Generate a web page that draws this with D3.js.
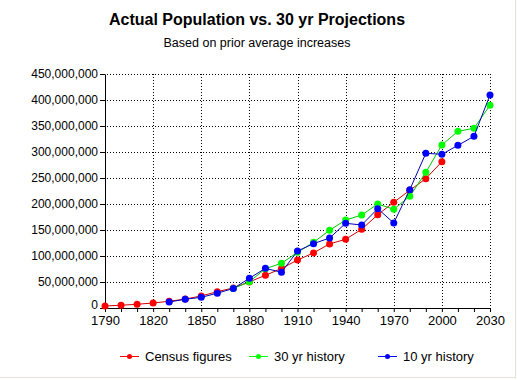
<!DOCTYPE html>
<html>
<head>
  <meta charset="utf-8">
  <title>Actual Population vs. 30 yr Projections</title>
  <script src="https://d3js.org/d3.v7.min.js"></script>
  <style>
    body { margin: 0; background: #fff; }
    text { font-family: Arial, "Liberation Sans", sans-serif; }
  </style>
</head>
<body>
  <svg width="517" height="380"></svg>
  <script>
    // Data (values in millions of people)
    var years = [1790, 1800, 1810, 1820, 1830, 1840, 1850, 1860, 1870, 1880, 1890, 1900,
                 1910, 1920, 1930, 1940, 1950, 1960, 1970, 1980, 1990, 2000, 2010, 2020, 2030];
    var census = [3.9, 5.3, 7.2, 9.6, 12.9, 17.1, 23.2, 31.4, 38.6, 50.2, 62.9, 76.0,
                  92.2, 106.0, 123.2, 132.2, 151.3, 179.3, 203.3, 226.5, 248.7, 281.4, null, null, null];
    var hist30 = [null, null, null, null, null, null, null, null, 37.5, 50.6, 75.5, 86.0,
                  107.0, 126.3, 149.4, 169.2, 178.8, 200.0, 189.8, 214.8, 261.0, 313.5, 339.8, 345.6, 389.8];
    var hist10 = [null, null, null, null, 11.5, 16.9, 20.5, 28.5, 37.5, 57.1, 76.3, 68.6,
                  109.6, 123.7, 134.6, 162.9, 159.6, 191.0, 163.5, 227.5, 297.5, 295.6, 312.8, 330.2, 409.6];
    var yTicks = [0, 50e6, 100e6, 150e6, 200e6, 250e6, 300e6, 350e6, 400e6, 450e6];
    var xLabelYears = [1790, 1820, 1850, 1880, 1910, 1940, 1970, 2000, 2030];

    var series = [
      { name: "Census figures", values: census, line: "#d00000", dot: "#ff0000" },
      { name: "30 yr history", values: hist30, line: "#00c800", dot: "#00ff00" },
      { name: "10 yr history", values: hist10, line: "#0000b0", dot: "#0000ff" }
    ];

    var svg = d3.select("svg");

    var x = d3.scaleLinear().domain([1790, 2030]).range([105, 490]);
    var y = d3.scaleLinear().domain([0, 450e6]).range([308, 74]);

    // window frame at right / bottom
    svg.append("line").attr("x1", 515.5).attr("x2", 515.5).attr("y1", 0).attr("y2", 378)
      .attr("stroke", "#e6e3d6");
    svg.append("line").attr("x1", 0).attr("x2", 516).attr("y1", 377.5).attr("y2", 377.5)
      .attr("stroke", "#e6e3d6");

    // Title
    svg.append("text")
      .attr("x", 257).attr("y", 25)
      .attr("text-anchor", "middle")
      .style("font-size", "16px").style("font-weight", "bold")
      .text("Actual Population vs. 30 yr Projections");
    svg.append("text")
      .attr("x", 257).attr("y", 47)
      .attr("text-anchor", "middle")
      .style("font-size", "12.5px")
      .text("Based on prior average increases");

    // Gridlines
    var grid = svg.append("g").attr("stroke", "#000").attr("stroke-dasharray", "1,2");
    grid.selectAll(".hg").data(yTicks.slice(1)).enter().append("line")
      .attr("x1", x(1790) + 2).attr("x2", x(2030) + 1)
      .attr("y1", function(d) { return Math.round(y(d)) + 0.5; })
      .attr("y2", function(d) { return Math.round(y(d)) + 0.5; });
    grid.selectAll(".vg").data(xLabelYears.slice(1)).enter().append("line")
      .attr("x1", function(d) { return Math.round(x(d)) + 0.5; })
      .attr("x2", function(d) { return Math.round(x(d)) + 0.5; })
      .attr("y1", y(450e6)).attr("y2", y(0));

    // Axes
    var yAxis = svg.append("g")
      .attr("transform", "translate(105,0)")
      .call(d3.axisLeft(y).tickValues(yTicks).tickSize(5).tickSizeOuter(0).tickPadding(2)
        .tickFormat(d3.format(",")));
    yAxis.selectAll("text").style("font-size", "12px").attr("fill", "#000");
    yAxis.selectAll("text").filter(function(d) { return d === 0; }).attr("dy", "0.05em");

    var xAxis = svg.append("g")
      .attr("transform", "translate(0,308)")
      .call(d3.axisBottom(x).tickValues(years).tickSize(4).tickSizeOuter(0).tickPadding(4)
        .tickFormat(function(d) { return xLabelYears.indexOf(d) >= 0 ? d : ""; }));
    xAxis.selectAll("text").style("font-size", "13px").attr("fill", "#000");
    svg.selectAll(".domain, .tick line").attr("stroke", "#000");

    // Lines and markers
    var line = d3.line()
      .defined(function(d) { return d.v != null; })
      .x(function(d) { return x(d.year); })
      .y(function(d) { return y(d.v * 1e6); });

    series.forEach(function(s) {
      var pts = years.map(function(yr, i) { return { year: yr, v: s.values[i] }; });
      svg.append("path")
        .datum(pts)
        .attr("fill", "none")
        .attr("stroke", s.line)
        .attr("stroke-width", 1)
        .attr("d", line);
      svg.append("g").selectAll("circle")
        .data(pts.filter(function(d) { return d.v != null; }))
        .enter().append("circle")
        .attr("cx", function(d) { return x(d.year); })
        .attr("cy", function(d) { return y(d.v * 1e6); })
        .attr("r", 3.5)
        .attr("fill", s.dot);
    });

    // Legend
    var legendX = [120, 249, 378];
    var legend = svg.append("g").selectAll("g").data(series).enter().append("g")
      .attr("transform", function(d, i) { return "translate(" + legendX[i] + ",356)"; });
    legend.append("line")
      .attr("x1", 0).attr("x2", 19).attr("y1", 0.5).attr("y2", 0.5)
      .attr("stroke", function(d) { return d.dot; });
    legend.append("circle")
      .attr("cx", 9.5).attr("cy", 0.5).attr("r", 2.5)
      .attr("fill", function(d) { return d.dot; });
    legend.append("text")
      .attr("x", 25).attr("y", 5)
      .style("font-size", "13px")
      .text(function(d) { return d.name; });
  </script>
</body>
</html>
